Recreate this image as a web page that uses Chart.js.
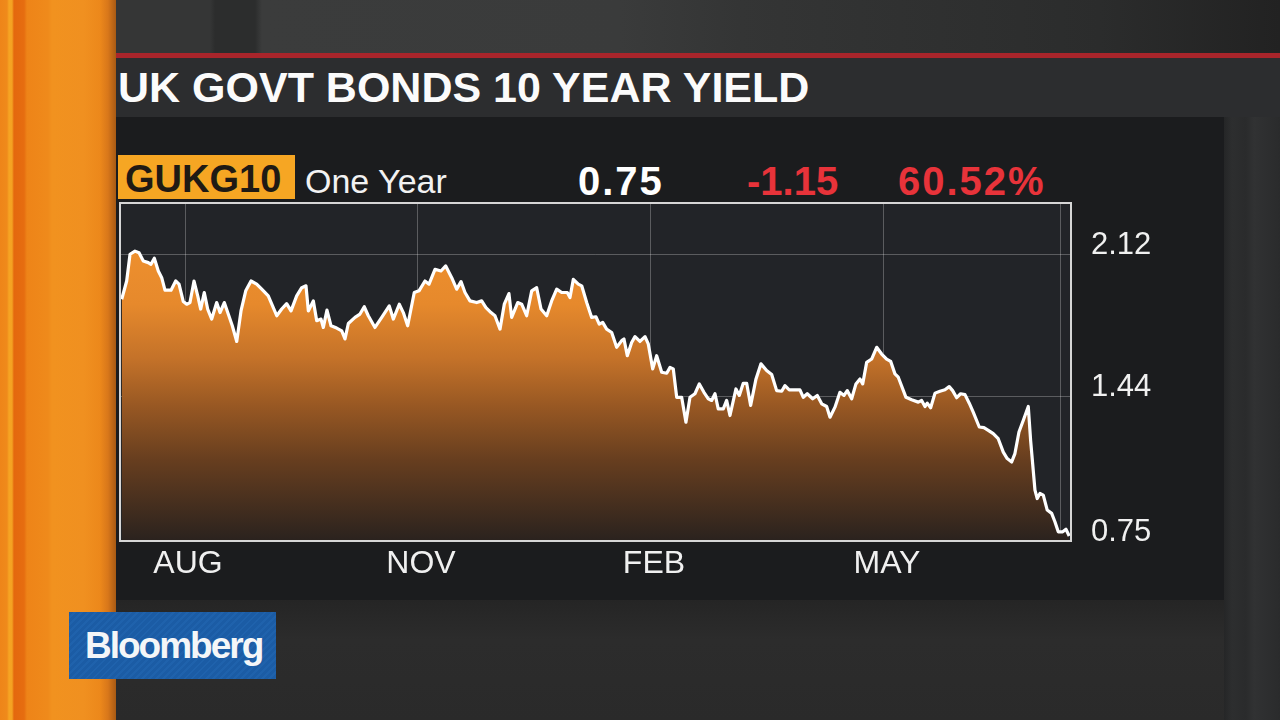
<!DOCTYPE html>
<html>
<head>
<meta charset="utf-8">
<title>UK Govt Bonds 10 Year Yield</title>
<script src="https://cdn.jsdelivr.net/npm/chart.js@4.4.1/dist/chart.umd.min.js"></script>
<style>
  html, body { margin: 0; padding: 0; }
  body {
    width: 1280px; height: 720px; overflow: hidden; position: relative;
    background: #262626;
    font-family: 'Liberation Sans', Arial, sans-serif;
  }
  .abs { position: absolute; }
  #studioTop {
    left: 0; top: 0; width: 1280px; height: 54px;
    background: linear-gradient(90deg, #353636 0, #353636 210px, #2c2d2d 215px, #2c2d2d 255px,
      #3b3c3c 262px, #3a3b3b 620px, #343535 740px, #303131 900px, #2b2c2c 1100px, #222 1280px);
  }
  #orangeStrip {
    left: 0; top: 0; width: 116px; height: 720px;
    background: linear-gradient(90deg, #ee8519 0, #ef8a1b 7px, #f6a423 9px, #f4a222 12px, #e4680e 14px,
      #e66d10 24px, #ee8418 27px, #ef8a1b 48px, #f1921f 52px, #f09020 84px, #ec881b 100px, #d8771a 108px, #a85a14 116px);
  }
  #redLine { left: 106px; top: 53px; width: 1174px; height: 5px; background: #a9252b; }
  #titleBar { left: 106px; top: 58px; width: 1174px; height: 59px; background: #2c2d2f; }
  #title {
    left: 118px; top: 66px; font-size: 43px; line-height: 43px; font-weight: bold; color: #fbfbfb;
    white-space: nowrap;
  }
  #panel { left: 116px; top: 117px; width: 1108px; height: 483px; background: #1b1c1e; }
  #rightStrip {
    left: 1224px; top: 117px; width: 56px; height: 603px;
    background: linear-gradient(90deg, #252627 0, #2d2e2f 8px, #2a2b2c 22px, #313233 30px, #2a2b2c 56px);
  }
  #bottomArea {
    left: 116px; top: 600px; width: 1108px; height: 120px;
    background: linear-gradient(180deg, #252525 0, #2c2c2c 40px, #2a2a2a 120px);
  }
  #tickerBox { left: 118px; top: 155px; width: 177px; height: 44px; background: #f6a623; }
  #ticker {
    left: 125px; top: 160px; font-size: 38px; line-height: 38px; font-weight: bold; color: #1f1a14;
  }
  #period { left: 305px; top: 164px; font-size: 34px; line-height: 34px; color: #f2f2f2; }
  .stat { top: 161px; font-size: 40px; line-height: 40px; font-weight: bold; white-space: nowrap; }
  #last { left: 578px; color: #ffffff; letter-spacing: 2px; }
  #chg { left: 747px; color: #e8333a; }
  #pct { left: 898px; color: #e8333a; letter-spacing: 2px; }
  #logo {
    left: 69px; top: 612px; width: 207px; height: 67px;
    background: repeating-linear-gradient(135deg, #1b5ca5 0, #1b5ca5 3px, #1f62ac 3px, #1f62ac 5px);
  }
  #logoText {
    left: 85px; top: 627px; font-size: 37px; line-height: 37px; font-weight: bold; color: #f4f6f8;
    letter-spacing: -2px;
  }
  #chartWrap { left: 116px; top: 190px; width: 1108px; height: 410px; }
</style>
</head>
<body>
<div id="studioTop" class="abs"></div>
<div id="redLine" class="abs"></div>
<div id="titleBar" class="abs"></div>
<div id="title" class="abs">UK GOVT BONDS 10 YEAR YIELD</div>
<div id="panel" class="abs"></div>
<div id="rightStrip" class="abs"></div>
<div id="bottomArea" class="abs"></div>
<div id="orangeStrip" class="abs"></div>
<div id="tickerBox" class="abs"></div>
<div id="ticker" class="abs">GUKG10</div>
<div id="period" class="abs">One Year</div>
<div id="last" class="abs stat">0.75</div>
<div id="chg" class="abs stat">-1.15</div>
<div id="pct" class="abs stat">60.52%</div>
<div id="chartWrap" class="abs"><canvas id="yieldChart" width="1108" height="410"></canvas></div>
<div id="logo" class="abs"></div>
<div id="logoText" class="abs">Bloomberg</div>

<script>
// x = months from 1 Aug 2015 (AUG = 0, NOV = 3, FEB = 6, MAY = 9)
const monthPos = [
  -0.815, -0.751, -0.708, -0.644, -0.592, -0.537, -0.473, -0.438, -0.395, -0.344,
  -0.300, -0.258, -0.180, -0.120, -0.077, -0.022, 0.022, 0.064, 0.116, 0.164,
  0.202, 0.248, 0.292, 0.344, 0.408, 0.451, 0.506, 0.557, 0.609, 0.666,
  0.721, 0.782, 0.850, 0.923, 0.988, 1.072, 1.181, 1.245, 1.309, 1.365,
  1.438, 1.503, 1.558, 1.588, 1.652, 1.696, 1.751, 1.781, 1.828, 1.880,
  1.953, 2.018, 2.060, 2.103, 2.189, 2.253, 2.308, 2.360, 2.446, 2.533,
  2.630, 2.682, 2.759, 2.811, 2.867, 2.952, 3.013, 3.090, 3.142, 3.219,
  3.296, 3.357, 3.434, 3.498, 3.554, 3.605, 3.669, 3.756, 3.820, 3.875,
  3.940, 3.991, 4.056, 4.111, 4.171, 4.206, 4.284, 4.335, 4.399, 4.464,
  4.528, 4.584, 4.657, 4.721, 4.786, 4.850, 4.922, 4.957, 5.000, 5.064,
  5.108, 5.172, 5.236, 5.292, 5.334, 5.378, 5.429, 5.494, 5.558, 5.623,
  5.652, 5.695, 5.751, 5.794, 5.858, 5.923, 5.965, 6.022, 6.073, 6.138,
  6.202, 6.245, 6.287, 6.331, 6.395, 6.450, 6.502, 6.566, 6.622, 6.682,
  6.738, 6.781, 6.824, 6.866, 6.931, 6.974, 7.017, 7.094, 7.137, 7.188,
  7.232, 7.283, 7.352, 7.416, 7.489, 7.554, 7.618, 7.683, 7.725, 7.780,
  7.918, 7.961, 8.012, 8.082, 8.141, 8.198, 8.262, 8.305, 8.369, 8.433,
  8.485, 8.527, 8.584, 8.639, 8.691, 8.726, 8.777, 8.841, 8.906, 8.970,
  9.034, 9.086, 9.141, 9.184, 9.283, 9.356, 9.441, 9.485, 9.528, 9.557,
  9.601, 9.657, 9.721, 9.785, 9.840, 9.884, 9.936, 9.987, 10.043, 10.098,
  10.149, 10.227, 10.287, 10.343, 10.407, 10.471, 10.536, 10.587, 10.644, 10.686,
  10.738, 10.793, 10.858, 10.888, 10.944, 10.973, 11.008, 11.051, 11.102, 11.159,
  11.201, 11.244, 11.301, 11.343, 11.385
];
// yield, percent
const yieldPct = [
  1.906, 1.993, 2.121, 2.136, 2.128, 2.089, 2.081, 2.073, 2.102, 2.041,
  2.009, 1.949, 1.949, 1.993, 1.978, 1.895, 1.882, 1.890, 1.993, 1.922,
  1.859, 1.938, 1.859, 1.811, 1.890, 1.842, 1.890, 1.835, 1.779, 1.704,
  1.850, 1.946, 1.993, 1.978, 1.954, 1.922, 1.827, 1.859, 1.885, 1.850,
  1.922, 1.961, 1.970, 1.850, 1.898, 1.803, 1.811, 1.771, 1.854, 1.779,
  1.768, 1.755, 1.716, 1.790, 1.819, 1.835, 1.870, 1.827, 1.771, 1.819,
  1.874, 1.811, 1.882, 1.842, 1.779, 1.938, 1.946, 1.993, 1.978, 2.049,
  2.041, 2.065, 2.009, 1.954, 1.990, 1.938, 1.898, 1.890, 1.898, 1.866,
  1.842, 1.827, 1.763, 1.882, 1.933, 1.819, 1.890, 1.882, 1.827, 1.946,
  1.961, 1.859, 1.827, 1.898, 1.954, 1.938, 1.938, 1.914, 2.001, 1.978,
  1.970, 1.890, 1.819, 1.822, 1.787, 1.795, 1.763, 1.747, 1.676, 1.708,
  1.716, 1.636, 1.699, 1.727, 1.704, 1.727, 1.692, 1.573, 1.636, 1.557,
  1.552, 1.580, 1.573, 1.437, 1.437, 1.318, 1.437, 1.454, 1.501, 1.461,
  1.430, 1.422, 1.454, 1.382, 1.382, 1.422, 1.350, 1.477, 1.446, 1.504,
  1.504, 1.398, 1.525, 1.597, 1.565, 1.546, 1.469, 1.466, 1.493, 1.473,
  1.473, 1.437, 1.454, 1.430, 1.446, 1.406, 1.393, 1.342, 1.390, 1.461,
  1.446, 1.469, 1.430, 1.501, 1.525, 1.501, 1.604, 1.620, 1.676, 1.644,
  1.620, 1.609, 1.549, 1.533, 1.437, 1.425, 1.414, 1.422, 1.393, 1.409,
  1.387, 1.457, 1.466, 1.473, 1.488, 1.469, 1.435, 1.454, 1.450, 1.409,
  1.366, 1.295, 1.292, 1.279, 1.263, 1.239, 1.175, 1.144, 1.128, 1.168,
  1.271, 1.326, 1.393, 1.231, 0.993, 0.953, 0.977, 0.969, 0.898, 0.882,
  0.842, 0.794, 0.794, 0.806, 0.774
];
const xTickPos = [0, 3, 6, 9, 11.27];
const xTickLabels = ['AUG', 'NOV', 'FEB', 'MAY', ''];
const yTicks = [0.75, 1.44, 2.12];

const points = monthPos.map((m, i) => ({ x: m, y: yieldPct[i] }));

// orange to dark brown, top to bottom of the plot
function areaFill(context) {
  const chart = context.chart;
  const area = chart.chartArea;
  if (!area) return '#e0862c';
  const g = chart.ctx.createLinearGradient(0, area.top, 0, area.bottom);
  g.addColorStop(0, '#f4952f');
  g.addColorStop(0.3, '#e6892c');
  g.addColorStop(0.46, '#c47229');
  g.addColorStop(0.6, '#985823');
  g.addColorStop(0.76, '#673e1f');
  g.addColorStop(1, '#2a221e');
  return g;
}

const plotFrame = {
  id: 'plotFrame',
  beforeDraw(chart) {
    const { ctx, chartArea: a } = chart;
    ctx.save();
    ctx.fillStyle = '#222428';
    ctx.fillRect(a.left, a.top, a.right - a.left, a.bottom - a.top);
    ctx.restore();
  },
  afterDraw(chart) {
    const { ctx, chartArea: a } = chart;
    ctx.save();
    ctx.strokeStyle = '#d6d6d6';
    ctx.lineWidth = 2;
    ctx.strokeRect(a.left, a.top, a.right - a.left, a.bottom - a.top);
    ctx.restore();
  }
};

const gridColor = 'rgba(255,255,255,0.26)';
const tickFont = { family: "'Liberation Sans', Arial, sans-serif", size: 31 };

new Chart(document.getElementById('yieldChart'), {
  type: 'line',
  data: {
    datasets: [{
      data: points,
      borderColor: '#ffffff',
      borderWidth: 3.2,
      borderJoinStyle: 'round',
      pointRadius: 0,
      tension: 0,
      fill: 'start',
      backgroundColor: areaFill
    }]
  },
  options: {
    responsive: false,
    animation: false,
    layout: { padding: { left: 4, top: 13, right: 0, bottom: 0 } },
    plugins: { legend: { display: false }, tooltip: { enabled: false } },
    scales: {
      x: {
        type: 'linear',
        min: -0.837,
        max: 11.408,
        z: 1,
        afterFit(scale) {
          scale.height = 59;
          scale.paddingLeft = 0;
          scale.paddingRight = 0;
        },
        afterBuildTicks(scale) { scale.ticks = xTickPos.map(v => ({ value: v })); },
        grid: { color: gridColor, lineWidth: 1, drawTicks: false },
        border: { display: false },
        ticks: {
          color: '#f0f0f0', font: { ...tickFont, size: 32 }, padding: 4, labelOffset: 3,
          autoSkip: false, maxRotation: 0,
          callback: (v, i) => xTickLabels[i]
        }
      },
      y: {
        position: 'right',
        min: 0.75,
        max: 2.366,
        z: 1,
        afterFit(scale) {
          scale.width = 153;
          scale.paddingTop = 0;
          scale.paddingBottom = 0;
        },
        afterBuildTicks(scale) { scale.ticks = yTicks.map(v => ({ value: v })); },
        grid: { color: gridColor, lineWidth: 1, drawTicks: false },
        border: { display: false },
        ticks: {
          color: '#f0f0f0', font: tickFont, padding: 20, labelOffset: -9,
          callback: v => v.toFixed(2)
        }
      }
    }
  },
  plugins: [plotFrame]
});
</script>
</body>
</html>
